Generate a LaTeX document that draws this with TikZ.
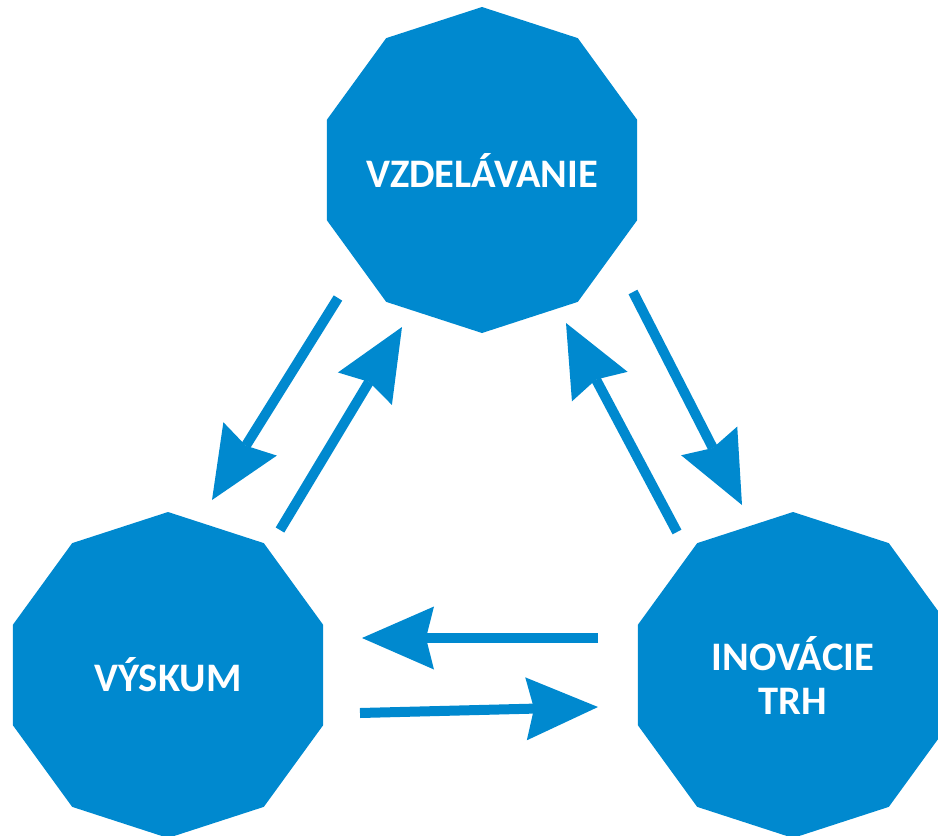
\documentclass[tikz,border=0pt]{standalone}
\usepackage{fontspec}
\setmainfont{Carlito}
\usetikzlibrary{shapes.geometric, arrows.meta, calc}
\definecolor{blau}{RGB}{0,137,207}

\begin{document}
\begin{tikzpicture}[
        x=1pt, y=-1pt,
        deca/.style={regular polygon, regular polygon sides=10, shape border rotate=18,
            minimum size=326pt, inner sep=-30pt, fill=blau, text=white, align=center,
            font={\bfseries\fontsize{40.5}{44}\selectfont}},
        link/.style={blau, line width=10pt,
            -{Stealth[length=72pt, width=63pt, inset=8pt, line width=0pt]}}
    ]
    \useasboundingbox (0,0) rectangle (938,836);

    % Knoten
    \node[deca] (vzd) at (482,170) {VZDELÁVANIE};
    \node[deca] (vys) at (168,675) {VÝSKUM};
    \node[deca] (ino) at (793,675) {INOVÁCIE\\TRH};

    % Pfeile links
    \draw[link] ($(vzd.center) + (-144,128)$) -- ($(vys.center) + (44,-175)$);
    \draw[link] ($(vys.center) + (112,-145)$) -- ($(vzd.center) + (-80,157)$);

    % Pfeile rechts
    \draw[link] ($(ino.center) + (-116,-143)$) -- ($(vzd.center) + (84,153)$);
    \draw[link] ($(vzd.center) + (151,122)$) -- ($(ino.center) + (-51,-170)$);

    % Pfeile unten
    \draw[link] ($(ino.center) + (-195,-37)$) -- ($(vys.center) + (194,-37)$);
    \draw[link] ($(vys.center) + (192,38)$) -- ($(ino.center) + (-195,32)$);

\end{tikzpicture}
\end{document}
